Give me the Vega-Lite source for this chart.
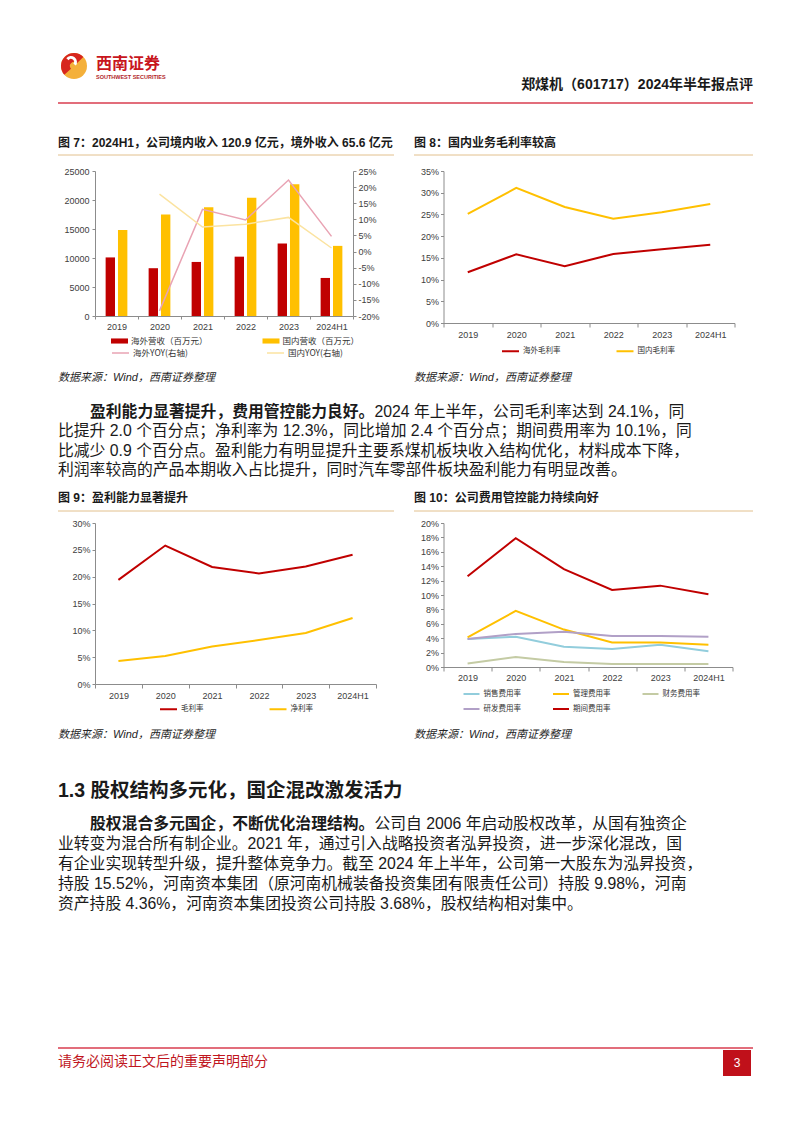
{
  "$schema": "https://vega.github.io/schema/vega-lite/v6.json",
  "background": "white",
  "padding": {"left": 57, "top": 40, "right": 10, "bottom": 10},
  "autosize": {"type": "pad"},
  "columns": 2,
  "bounds": "flush",
  "align": "each",
  "spacing": {"row": 0, "column": 67.5},
  "resolve": {
    "scale": {"x": "independent", "y": "independent", "color": "independent", "fill": "independent", "stroke": "independent"},
    "legend": {"color": "independent", "fill": "independent", "stroke": "independent"}
  },
  "config": {
    "view": {"stroke": null},
    "font": "Liberation Sans",
    "locale": {"number": {"decimal": ".", "thousands": ",", "grouping": [3], "currency": ["$", ""], "minus": "-"}},
    "axis": {"grid": false, "title": null, "domainColor": "#8C8C8C", "tickColor": "#8C8C8C", "tickSize": 3, "labelColor": "#404040", "labelFont": "Liberation Sans", "labelFontSize": 9, "labelPadding": 2},
    "legend": {"labelFont": "Noto Sans CJK SC", "labelFontSize": 7.5, "labelColor": "#333333", "padding": 0, "labelOffset": 3, "rowPadding": 0},
    "text": {"font": "Liberation Sans, Noto Sans CJK SC", "baseline": "middle", "align": "left", "fill": "#1a1a1a"}
  },
  "concat": [
    {
      "width": 100, "height": 131,
      "layer": [
        {"data": {"values": [{}]}, "mark": {"type": "rule", "strokeOpacity": 0, "strokeWidth": 0.5}, "encoding": {"x": {"value": -37}, "x2": {"value": 658}, "y": {"value": 0}}},
        {"data": {"values": [{}]}, "mark": {"type": "arc", "theta": 0, "theta2": 6.2832, "outerRadius": 13, "fill": "#F4B03A", "x": -21, "y": 26}, "encoding": {}},
        {"data": {"values": [{}]}, "mark": {"type": "arc", "theta": -2.3, "theta2": 0.8, "outerRadius": 13, "innerRadius": 4, "fill": "#D7261E", "x": -21, "y": 26}, "encoding": {}},
        {"data": {"values": [{}]}, "mark": {"type": "arc", "theta": -0.9, "theta2": 2.2, "outerRadius": 6, "innerRadius": 3, "fill": "#FFFFFF", "x": -24, "y": 22}, "encoding": {}},
        {"data": {"values": [{"t": "西南证券"}]}, "mark": {"type": "text", "font": "Noto Sans CJK SC", "fontWeight": "bold", "fontSize": 16, "fill": "#C8161D"}, "encoding": {"text": {"field": "t", "type": "nominal"}, "x": {"value": 1}, "y": {"value": 24}}},
        {"data": {"values": [{"t": "SOUTHWEST SECURITIES"}]}, "mark": {"type": "text", "font": "Liberation Sans", "fontWeight": "bold", "fontSize": 5.5, "fill": "#B2262A"}, "encoding": {"text": {"field": "t", "type": "nominal"}, "x": {"value": 1}, "y": {"value": 37}}},
        {"data": {"values": [{"t": "郑煤机（601717）2024年半年报点评"}]}, "mark": {"type": "text", "align": "right", "fontWeight": "bold", "fontSize": 14, "fill": "#1a1a1a"}, "encoding": {"text": {"field": "t", "type": "nominal"}, "x": {"value": 658}, "y": {"value": 45}}},
        {"data": {"values": [{}]}, "mark": {"type": "rule", "stroke": "#E26D7B", "strokeWidth": 2}, "encoding": {"x": {"value": -37}, "x2": {"value": 658}, "y": {"value": 63}}},
        {"data": {"values": [{"t": "图 7：2024H1，公司境内收入 120.9 亿元，境外收入 65.6 亿元"}]}, "mark": {"type": "text", "fontWeight": "bold", "fontSize": 12}, "encoding": {"text": {"field": "t", "type": "nominal"}, "x": {"value": -37}, "y": {"value": 103}}},
        {"data": {"values": [{}]}, "mark": {"type": "rule", "stroke": "#E2C08D", "strokeWidth": 1}, "encoding": {"x": {"value": -37}, "x2": {"value": 299}, "y": {"value": 115}}}
      ]
    },
    {
      "width": 100, "height": 131,
      "layer": [
        {"data": {"values": [{"t": "图 8：国内业务毛利率较高"}]}, "mark": {"type": "text", "fontWeight": "bold", "fontSize": 12}, "encoding": {"text": {"field": "t", "type": "nominal"}, "x": {"value": -29.5}, "y": {"value": 103}}},
        {"data": {"values": [{}]}, "mark": {"type": "rule", "stroke": "#E2C08D", "strokeWidth": 1}, "encoding": {"x": {"value": -29.5}, "x2": {"value": 309.5}, "y": {"value": 115}}}
      ]
    },
    {
      "width": 258, "height": 145,
      "layer": [
        {
          "data": {"values": [
            {"year": "2019", "s": "海外营收（百万元）", "v": 10100},
            {"year": "2019", "s": "国内营收（百万元）", "v": 14830},
            {"year": "2020", "s": "海外营收（百万元）", "v": 8240},
            {"year": "2020", "s": "国内营收（百万元）", "v": 17500},
            {"year": "2021", "s": "海外营收（百万元）", "v": 9320},
            {"year": "2021", "s": "国内营收（百万元）", "v": 18750},
            {"year": "2022", "s": "海外营收（百万元）", "v": 10230},
            {"year": "2022", "s": "国内营收（百万元）", "v": 20400},
            {"year": "2023", "s": "海外营收（百万元）", "v": 12500},
            {"year": "2023", "s": "国内营收（百万元）", "v": 22730},
            {"year": "2024H1", "s": "海外营收（百万元）", "v": 6560},
            {"year": "2024H1", "s": "国内营收（百万元）", "v": 12090}
          ]},
          "mark": {"type": "bar"},
          "encoding": {
            "x": {"field": "year", "type": "ordinal", "scale": {"type": "band", "domain": ["2019", "2020", "2021", "2022", "2023", "2024H1"], "paddingInner": 0, "paddingOuter": 0}, "axis": {"labelAngle": 0, "tickBand": "extent", "labelPadding": 3, "tickSize": 3}},
            "xOffset": {"field": "s", "type": "nominal", "scale": {"domain": ["海外营收（百万元）", "国内营收（百万元）"], "paddingInner": 0.24, "paddingOuter": 0.86}},
            "y": {"field": "v", "type": "quantitative", "scale": {"domain": [0, 25000], "nice": false}, "axis": {"values": [0, 5000, 10000, 15000, 20000, 25000], "format": "d", "labelPadding": 3}},
            "fill": {"field": "s", "type": "nominal", "scale": {"domain": ["海外营收（百万元）", "国内营收（百万元）"], "range": ["#C00000", "#FFC000"]}, "legend": {"orient": "none", "legendX": 16, "legendY": 161.5, "direction": "horizontal", "columns": 2, "title": null, "symbolType": "M-1,-0.3H1V0.3H-1Z", "symbolSize": 289, "symbolStrokeWidth": 0, "columnPadding": 54.5, "labelFontSize": 8.5}}
          }
        },
        {
          "data": {"values": [
            {"year": "2020", "s": "海外YOY(右轴)", "v": -0.184},
            {"year": "2021", "s": "海外YOY(右轴)", "v": 0.131},
            {"year": "2022", "s": "海外YOY(右轴)", "v": 0.098},
            {"year": "2023", "s": "海外YOY(右轴)", "v": 0.222},
            {"year": "2024H1", "s": "海外YOY(右轴)", "v": 0.047},
            {"year": "2020", "s": "国内YOY(右轴)", "v": 0.178},
            {"year": "2021", "s": "国内YOY(右轴)", "v": 0.076},
            {"year": "2022", "s": "国内YOY(右轴)", "v": 0.085},
            {"year": "2023", "s": "国内YOY(右轴)", "v": 0.106},
            {"year": "2024H1", "s": "国内YOY(右轴)", "v": 0.011}
          ]},
          "mark": {"type": "line", "strokeWidth": 1.5},
          "encoding": {
            "x": {"field": "year", "type": "ordinal", "scale": {"type": "band", "domain": ["2019", "2020", "2021", "2022", "2023", "2024H1"]}},
            "y": {"field": "v", "type": "quantitative", "scale": {"domain": [-0.2, 0.25], "nice": false}, "axis": {"orient": "right", "format": ".0%", "values": [-0.2, -0.15, -0.1, -0.05, 0, 0.05, 0.1, 0.15, 0.2, 0.25], "labelPadding": 2}},
            "stroke": {"field": "s", "type": "nominal", "scale": {"domain": ["海外YOY(右轴)", "国内YOY(右轴)"], "range": ["#E9A3B3", "#FBE3A0"]}, "legend": {"orient": "none", "legendX": 16, "legendY": 172.5, "direction": "horizontal", "columns": 2, "title": null, "symbolType": "stroke", "symbolSize": 289, "symbolStrokeWidth": 1.5, "columnPadding": 76, "labelFontSize": 8.5}}
          }
        }
      ],
      "resolve": {"scale": {"y": "independent"}}
    },
    {
      "width": 291, "height": 152,
      "data": {"values": [
        {"year": "2019", "s": "海外毛利率", "v": 0.117},
        {"year": "2020", "s": "海外毛利率", "v": 0.158},
        {"year": "2021", "s": "海外毛利率", "v": 0.131},
        {"year": "2022", "s": "海外毛利率", "v": 0.159},
        {"year": "2023", "s": "海外毛利率", "v": 0.170},
        {"year": "2024H1", "s": "海外毛利率", "v": 0.180},
        {"year": "2019", "s": "国内毛利率", "v": 0.251},
        {"year": "2020", "s": "国内毛利率", "v": 0.311},
        {"year": "2021", "s": "国内毛利率", "v": 0.267},
        {"year": "2022", "s": "国内毛利率", "v": 0.240},
        {"year": "2023", "s": "国内毛利率", "v": 0.255},
        {"year": "2024H1", "s": "国内毛利率", "v": 0.274}
      ]},
      "mark": {"type": "line", "strokeWidth": 2},
      "encoding": {
        "x": {"field": "year", "type": "ordinal", "scale": {"type": "band", "domain": ["2019", "2020", "2021", "2022", "2023", "2024H1"], "paddingInner": 0, "paddingOuter": 0}, "axis": {"labelAngle": 0, "tickBand": "extent", "labelPadding": 3, "tickSize": 4}},
        "y": {"field": "v", "type": "quantitative", "scale": {"domain": [0, 0.35], "nice": false}, "axis": {"format": ".0%", "values": [0, 0.05, 0.1, 0.15, 0.2, 0.25, 0.3, 0.35]}},
        "color": {"field": "s", "type": "nominal", "scale": {"domain": ["海外毛利率", "国内毛利率"], "range": ["#C00000", "#FFC000"]}, "legend": {"orient": "none", "legendX": 57.5, "legendY": 170.5, "direction": "horizontal", "columns": 2, "title": null, "symbolType": "stroke", "symbolSize": 289, "symbolStrokeWidth": 2, "columnPadding": 51.5}}
      }
    },
    {
      "width": 100, "height": 200,
      "layer": [
        {"data": {"values": [{"t": "数据来源：Wind，西南证券整理"}]}, "mark": {"type": "text", "fontStyle": "italic", "fontSize": 11, "fill": "#262626"}, "encoding": {"text": {"field": "t", "type": "nominal"}, "x": {"value": -37}, "y": {"value": 55}}},
        {"data": {"values": [{"t": "盈利能力显著提升，费用管控能力良好。"}]}, "mark": {"type": "text", "fontWeight": "bold", "fontSize": 15.8}, "encoding": {"text": {"field": "t", "type": "nominal"}, "x": {"value": -5}, "y": {"value": 88.5}}},
        {"data": {"values": [{"t": "2024 年上半年，公司毛利率达到 24.1%，同"}]}, "mark": {"type": "text", "fontSize": 15.8}, "encoding": {"text": {"field": "t", "type": "nominal"}, "x": {"value": 279.4}, "y": {"value": 88.5}}},
        {"data": {"values": [{"t": "比提升 2.0 个百分点；净利率为 12.3%，同比增加 2.4 个百分点；期间费用率为 10.1%，同"}]}, "mark": {"type": "text", "fontSize": 15.8}, "encoding": {"text": {"field": "t", "type": "nominal"}, "x": {"value": -37}, "y": {"value": 108}}},
        {"data": {"values": [{"t": "比减少 0.9 个百分点。盈利能力有明显提升主要系煤机板块收入结构优化，材料成本下降，"}]}, "mark": {"type": "text", "fontSize": 15.8}, "encoding": {"text": {"field": "t", "type": "nominal"}, "x": {"value": -37}, "y": {"value": 127.5}}},
        {"data": {"values": [{"t": "利润率较高的产品本期收入占比提升，同时汽车零部件板块盈利能力有明显改善。"}]}, "mark": {"type": "text", "fontSize": 15.8}, "encoding": {"text": {"field": "t", "type": "nominal"}, "x": {"value": -37}, "y": {"value": 147}}},
        {"data": {"values": [{"t": "图 9：盈利能力显著提升"}]}, "mark": {"type": "text", "fontWeight": "bold", "fontSize": 12}, "encoding": {"text": {"field": "t", "type": "nominal"}, "x": {"value": -37}, "y": {"value": 175}}},
        {"data": {"values": [{}]}, "mark": {"type": "rule", "stroke": "#E2C08D", "strokeWidth": 1}, "encoding": {"x": {"value": -37}, "x2": {"value": 299}, "y": {"value": 188}}}
      ]
    },
    {
      "width": 100, "height": 200,
      "layer": [
        {"data": {"values": [{"t": "数据来源：Wind，西南证券整理"}]}, "mark": {"type": "text", "fontStyle": "italic", "fontSize": 11, "fill": "#262626"}, "encoding": {"text": {"field": "t", "type": "nominal"}, "x": {"value": -29.5}, "y": {"value": 55}}},
        {"data": {"values": [{"t": "图 10：公司费用管控能力持续向好"}]}, "mark": {"type": "text", "fontWeight": "bold", "fontSize": 12}, "encoding": {"text": {"field": "t", "type": "nominal"}, "x": {"value": -29.5}, "y": {"value": 175}}},
        {"data": {"values": [{}]}, "mark": {"type": "rule", "stroke": "#E2C08D", "strokeWidth": 1}, "encoding": {"x": {"value": -29.5}, "x2": {"value": 309.5}, "y": {"value": 188}}}
      ]
    },
    {
      "width": 281, "height": 161,
      "data": {"values": [
        {"year": "2019", "s": "毛利率", "v": 0.194},
        {"year": "2020", "s": "毛利率", "v": 0.258},
        {"year": "2021", "s": "毛利率", "v": 0.218},
        {"year": "2022", "s": "毛利率", "v": 0.206},
        {"year": "2023", "s": "毛利率", "v": 0.219},
        {"year": "2024H1", "s": "毛利率", "v": 0.241},
        {"year": "2019", "s": "净利率", "v": 0.043},
        {"year": "2020", "s": "净利率", "v": 0.052},
        {"year": "2021", "s": "净利率", "v": 0.070},
        {"year": "2022", "s": "净利率", "v": 0.082},
        {"year": "2023", "s": "净利率", "v": 0.095},
        {"year": "2024H1", "s": "净利率", "v": 0.123}
      ]},
      "mark": {"type": "line", "strokeWidth": 2},
      "encoding": {
        "x": {"field": "year", "type": "ordinal", "scale": {"type": "band", "domain": ["2019", "2020", "2021", "2022", "2023", "2024H1"], "paddingInner": 0, "paddingOuter": 0}, "axis": {"labelAngle": 0, "tickBand": "extent", "labelPadding": 3, "tickSize": 4}},
        "y": {"field": "v", "type": "quantitative", "scale": {"domain": [0, 0.3], "nice": false}, "axis": {"format": ".0%", "values": [0, 0.05, 0.1, 0.15, 0.2, 0.25, 0.3]}},
        "color": {"field": "s", "type": "nominal", "scale": {"domain": ["毛利率", "净利率"], "range": ["#C00000", "#FFC000"]}, "legend": {"orient": "none", "legendX": 64, "legendY": 176.5, "direction": "horizontal", "columns": 2, "title": null, "symbolType": "stroke", "symbolSize": 289, "symbolStrokeWidth": 2, "columnPadding": 61.5}}
      }
    },
    {
      "width": 289, "height": 144,
      "data": {"values": [
        {"year": "2019", "s": "销售费用率", "v": 0.039},
        {"year": "2020", "s": "销售费用率", "v": 0.042},
        {"year": "2021", "s": "销售费用率", "v": 0.028},
        {"year": "2022", "s": "销售费用率", "v": 0.025},
        {"year": "2023", "s": "销售费用率", "v": 0.031},
        {"year": "2024H1", "s": "销售费用率", "v": 0.022},
        {"year": "2019", "s": "管理费用率", "v": 0.041},
        {"year": "2020", "s": "管理费用率", "v": 0.078},
        {"year": "2021", "s": "管理费用率", "v": 0.052},
        {"year": "2022", "s": "管理费用率", "v": 0.034},
        {"year": "2023", "s": "管理费用率", "v": 0.034},
        {"year": "2024H1", "s": "管理费用率", "v": 0.031},
        {"year": "2019", "s": "财务费用率", "v": 0.005},
        {"year": "2020", "s": "财务费用率", "v": 0.014},
        {"year": "2021", "s": "财务费用率", "v": 0.007},
        {"year": "2022", "s": "财务费用率", "v": 0.004},
        {"year": "2023", "s": "财务费用率", "v": 0.004},
        {"year": "2024H1", "s": "财务费用率", "v": 0.004},
        {"year": "2019", "s": "研发费用率", "v": 0.039},
        {"year": "2020", "s": "研发费用率", "v": 0.046},
        {"year": "2021", "s": "研发费用率", "v": 0.049},
        {"year": "2022", "s": "研发费用率", "v": 0.043},
        {"year": "2023", "s": "研发费用率", "v": 0.043},
        {"year": "2024H1", "s": "研发费用率", "v": 0.042},
        {"year": "2019", "s": "期间费用率", "v": 0.126},
        {"year": "2020", "s": "期间费用率", "v": 0.179},
        {"year": "2021", "s": "期间费用率", "v": 0.136},
        {"year": "2022", "s": "期间费用率", "v": 0.107},
        {"year": "2023", "s": "期间费用率", "v": 0.113},
        {"year": "2024H1", "s": "期间费用率", "v": 0.101}
      ]},
      "mark": {"type": "line", "strokeWidth": 2},
      "encoding": {
        "x": {"field": "year", "type": "ordinal", "scale": {"type": "band", "domain": ["2019", "2020", "2021", "2022", "2023", "2024H1"], "paddingInner": 0, "paddingOuter": 0}, "axis": {"labelAngle": 0, "tickBand": "extent", "labelPadding": 2, "tickSize": 4}},
        "y": {"field": "v", "type": "quantitative", "scale": {"domain": [0, 0.2], "nice": false}, "axis": {"format": ".0%", "values": [0, 0.02, 0.04, 0.06, 0.08, 0.1, 0.12, 0.14, 0.16, 0.18, 0.2]}},
        "color": {"field": "s", "type": "nominal", "scale": {"domain": ["销售费用率", "管理费用率", "财务费用率", "研发费用率", "期间费用率"], "range": ["#92CDDC", "#FFC000", "#C4CBA4", "#B1A0C7", "#C00000"]}, "legend": {"orient": "none", "legendX": 19, "legendY": 162, "direction": "horizontal", "columns": 3, "title": null, "symbolType": "stroke", "symbolSize": 256, "symbolStrokeWidth": 2, "columnPadding": 27.5, "rowPadding": 2}}
      }
    },
    {
      "width": 100, "height": 400,
      "layer": [
        {"data": {"values": [{"t": "数据来源：Wind，西南证券整理"}]}, "mark": {"type": "text", "fontStyle": "italic", "fontSize": 11, "fill": "#262626"}, "encoding": {"text": {"field": "t", "type": "nominal"}, "x": {"value": -37}, "y": {"value": 51}}},
        {"data": {"values": [{"t": "1.3 股权结构多元化，国企混改激发活力"}]}, "mark": {"type": "text", "fontWeight": "bold", "fontSize": 19.5}, "encoding": {"text": {"field": "t", "type": "nominal"}, "x": {"value": -37}, "y": {"value": 107}}},
        {"data": {"values": [{"t": "股权混合多元国企，不断优化治理结构。"}]}, "mark": {"type": "text", "fontWeight": "bold", "fontSize": 15.8}, "encoding": {"text": {"field": "t", "type": "nominal"}, "x": {"value": -5}, "y": {"value": 140}}},
        {"data": {"values": [{"t": "公司自 2006 年启动股权改革，从国有独资企"}]}, "mark": {"type": "text", "fontSize": 15.8}, "encoding": {"text": {"field": "t", "type": "nominal"}, "x": {"value": 279.4}, "y": {"value": 140}}},
        {"data": {"values": [{"t": "业转变为混合所有制企业。2021 年，通过引入战略投资者泓昇投资，进一步深化混改，国"}]}, "mark": {"type": "text", "fontSize": 15.8}, "encoding": {"text": {"field": "t", "type": "nominal"}, "x": {"value": -37}, "y": {"value": 160}}},
        {"data": {"values": [{"t": "有企业实现转型升级，提升整体竞争力。截至 2024 年上半年，公司第一大股东为泓昇投资，"}]}, "mark": {"type": "text", "fontSize": 15.8}, "encoding": {"text": {"field": "t", "type": "nominal"}, "x": {"value": -37}, "y": {"value": 180}}},
        {"data": {"values": [{"t": "持股 15.52%，河南资本集团（原河南机械装备投资集团有限责任公司）持股 9.98%，河南"}]}, "mark": {"type": "text", "fontSize": 15.8}, "encoding": {"text": {"field": "t", "type": "nominal"}, "x": {"value": -37}, "y": {"value": 200}}},
        {"data": {"values": [{"t": "资产持股 4.36%，河南资本集团投资公司持股 3.68%，股权结构相对集中。"}]}, "mark": {"type": "text", "fontSize": 15.8}, "encoding": {"text": {"field": "t", "type": "nominal"}, "x": {"value": -37}, "y": {"value": 220}}},
        {"data": {"values": [{}]}, "mark": {"type": "rule", "stroke": "#E26D7B", "strokeWidth": 2}, "encoding": {"x": {"value": -37}, "x2": {"value": 658}, "y": {"value": 364}}},
        {"data": {"values": [{"t": "请务必阅读正文后的重要声明部分"}]}, "mark": {"type": "text", "fontSize": 14, "font": "Noto Sans CJK SC", "fill": "#C0161E"}, "encoding": {"text": {"field": "t", "type": "nominal"}, "x": {"value": -37}, "y": {"value": 378}}},
        {"data": {"values": [{}]}, "mark": {"type": "rect", "fill": "#C0101A"}, "encoding": {"x": {"value": 628}, "x2": {"value": 656}, "y": {"value": 366}, "y2": {"value": 392}}},
        {"data": {"values": [{"t": "3"}]}, "mark": {"type": "text", "align": "center", "fontSize": 12, "fill": "#FFFFFF"}, "encoding": {"text": {"field": "t", "type": "nominal"}, "x": {"value": 642}, "y": {"value": 379}}}
      ]
    },
    {
      "width": 100, "height": 100,
      "layer": [
        {"data": {"values": [{"t": "数据来源：Wind，西南证券整理"}]}, "mark": {"type": "text", "fontStyle": "italic", "fontSize": 11, "fill": "#262626"}, "encoding": {"text": {"field": "t", "type": "nominal"}, "x": {"value": -29.5}, "y": {"value": 51}}}
      ]
    }
  ]
}
